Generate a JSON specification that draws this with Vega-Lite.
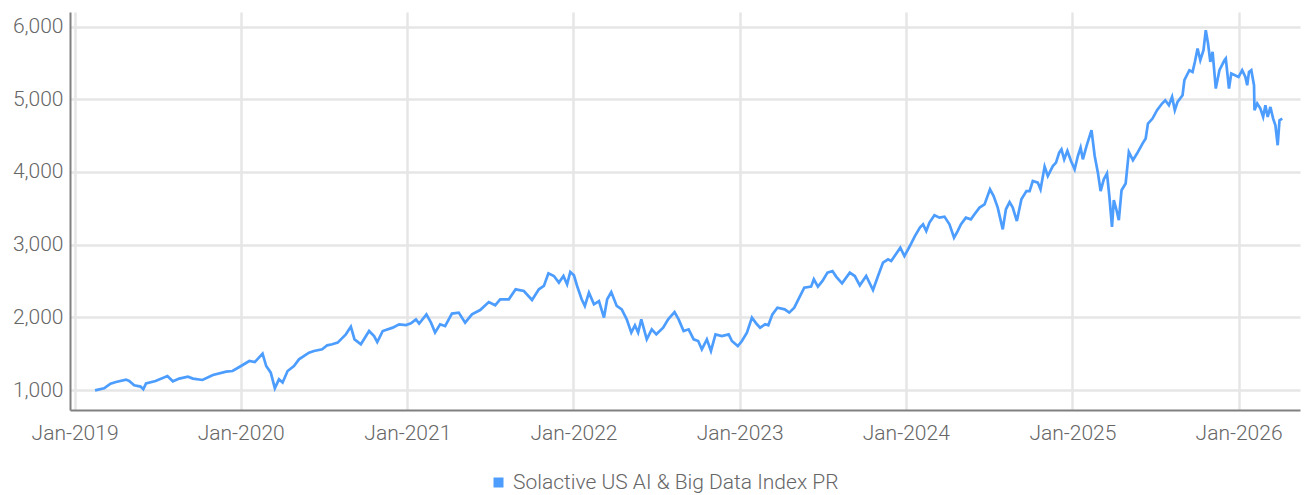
{
  "$schema": "https://vega.github.io/schema/vega-lite/v6.json",
  "autosize": {"type": "none"},
  "padding": {"left": 70, "top": 12, "right": 4, "bottom": 85},
  "width": 1230,
  "height": 398,
  "background": "white",
  "config": {
    "view": {"stroke": null},
    "font": "Roboto",
    "axis": {
      "domainColor": "#808080",
      "domainWidth": 2,
      "gridColor": "#e6e6e6",
      "gridWidth": 2.5,
      "ticks": false,
      "labelColor": "#666666",
      "labelFont": "Roboto",
      "labelFontSize": 21,
      "labelFontWeight": 300,
      "title": null
    },
    "legend": {
      "labelFont": "Roboto",
      "labelFontSize": 21,
      "labelFontWeight": 300,
      "labelColor": "#666666",
      "labelLimit": 0
    }
  },
  "data": {
    "values": [
      {"d": "2019-02-15", "v": 995}, {"d": "2019-03-07", "v": 1023}, {"d": "2019-03-21", "v": 1088}, {"d": "2019-04-02", "v": 1110},
      {"d": "2019-04-24", "v": 1143}, {"d": "2019-05-01", "v": 1124}, {"d": "2019-05-12", "v": 1065}, {"d": "2019-05-26", "v": 1047},
      {"d": "2019-06-01", "v": 1010}, {"d": "2019-06-07", "v": 1092}, {"d": "2019-06-28", "v": 1124}, {"d": "2019-07-24", "v": 1193},
      {"d": "2019-08-05", "v": 1120}, {"d": "2019-08-19", "v": 1157}, {"d": "2019-09-07", "v": 1184}, {"d": "2019-09-18", "v": 1157},
      {"d": "2019-10-09", "v": 1138}, {"d": "2019-11-01", "v": 1206}, {"d": "2019-11-30", "v": 1253}, {"d": "2019-12-14", "v": 1261},
      {"d": "2019-12-29", "v": 1316}, {"d": "2020-01-20", "v": 1399}, {"d": "2020-02-01", "v": 1385}, {"d": "2020-02-18", "v": 1500},
      {"d": "2020-02-26", "v": 1330}, {"d": "2020-03-07", "v": 1239}, {"d": "2020-03-16", "v": 1025}, {"d": "2020-03-25", "v": 1147},
      {"d": "2020-04-02", "v": 1102}, {"d": "2020-04-13", "v": 1261}, {"d": "2020-04-27", "v": 1330}, {"d": "2020-05-08", "v": 1422},
      {"d": "2020-05-30", "v": 1514}, {"d": "2020-06-10", "v": 1537}, {"d": "2020-06-28", "v": 1560}, {"d": "2020-07-09", "v": 1615},
      {"d": "2020-07-20", "v": 1629}, {"d": "2020-08-01", "v": 1652}, {"d": "2020-08-12", "v": 1721}, {"d": "2020-08-19", "v": 1766},
      {"d": "2020-08-30", "v": 1872}, {"d": "2020-09-07", "v": 1697}, {"d": "2020-09-21", "v": 1629}, {"d": "2020-10-09", "v": 1812},
      {"d": "2020-10-20", "v": 1743}, {"d": "2020-10-27", "v": 1660}, {"d": "2020-11-08", "v": 1812}, {"d": "2020-11-30", "v": 1858},
      {"d": "2020-12-14", "v": 1904}, {"d": "2020-12-29", "v": 1894}, {"d": "2021-01-09", "v": 1917}, {"d": "2021-01-20", "v": 1972},
      {"d": "2021-01-27", "v": 1913}, {"d": "2021-02-12", "v": 2041}, {"d": "2021-02-22", "v": 1927}, {"d": "2021-03-03", "v": 1790},
      {"d": "2021-03-14", "v": 1904}, {"d": "2021-03-25", "v": 1880}, {"d": "2021-04-09", "v": 2051}, {"d": "2021-04-24", "v": 2065},
      {"d": "2021-05-08", "v": 1927}, {"d": "2021-05-23", "v": 2041}, {"d": "2021-06-10", "v": 2100}, {"d": "2021-06-29", "v": 2210},
      {"d": "2021-07-13", "v": 2165}, {"d": "2021-07-24", "v": 2248}, {"d": "2021-08-12", "v": 2248}, {"d": "2021-08-27", "v": 2385},
      {"d": "2021-09-14", "v": 2362}, {"d": "2021-10-02", "v": 2238}, {"d": "2021-10-17", "v": 2385}, {"d": "2021-10-28", "v": 2431},
      {"d": "2021-11-07", "v": 2605}, {"d": "2021-11-19", "v": 2568}, {"d": "2021-11-30", "v": 2477}, {"d": "2021-12-10", "v": 2568},
      {"d": "2021-12-18", "v": 2454}, {"d": "2021-12-25", "v": 2623}, {"d": "2022-01-02", "v": 2578}, {"d": "2022-01-09", "v": 2431},
      {"d": "2022-01-19", "v": 2248}, {"d": "2022-01-26", "v": 2156}, {"d": "2022-02-04", "v": 2340}, {"d": "2022-02-15", "v": 2179},
      {"d": "2022-02-26", "v": 2224}, {"d": "2022-03-09", "v": 1996}, {"d": "2022-03-16", "v": 2248}, {"d": "2022-03-25", "v": 2348},
      {"d": "2022-04-06", "v": 2156}, {"d": "2022-04-17", "v": 2110}, {"d": "2022-04-28", "v": 1972}, {"d": "2022-05-08", "v": 1790},
      {"d": "2022-05-16", "v": 1890}, {"d": "2022-05-23", "v": 1790}, {"d": "2022-05-30", "v": 1972}, {"d": "2022-06-11", "v": 1697},
      {"d": "2022-06-22", "v": 1835}, {"d": "2022-07-02", "v": 1766}, {"d": "2022-07-17", "v": 1858}, {"d": "2022-07-28", "v": 1972},
      {"d": "2022-08-11", "v": 2073}, {"d": "2022-08-20", "v": 1972}, {"d": "2022-08-31", "v": 1812}, {"d": "2022-09-11", "v": 1835},
      {"d": "2022-09-22", "v": 1697}, {"d": "2022-10-02", "v": 1674}, {"d": "2022-10-10", "v": 1560}, {"d": "2022-10-21", "v": 1697},
      {"d": "2022-10-30", "v": 1537}, {"d": "2022-11-09", "v": 1766}, {"d": "2022-11-23", "v": 1743}, {"d": "2022-12-08", "v": 1766},
      {"d": "2022-12-15", "v": 1674}, {"d": "2022-12-28", "v": 1605}, {"d": "2023-01-06", "v": 1674}, {"d": "2023-01-17", "v": 1790},
      {"d": "2023-01-28", "v": 1996}, {"d": "2023-02-08", "v": 1904}, {"d": "2023-02-15", "v": 1858}, {"d": "2023-02-26", "v": 1904},
      {"d": "2023-03-05", "v": 1890}, {"d": "2023-03-14", "v": 2041}, {"d": "2023-03-25", "v": 2133}, {"d": "2023-04-10", "v": 2110},
      {"d": "2023-04-20", "v": 2065}, {"d": "2023-05-01", "v": 2133}, {"d": "2023-05-12", "v": 2271}, {"d": "2023-05-23", "v": 2408},
      {"d": "2023-06-07", "v": 2422}, {"d": "2023-06-13", "v": 2523}, {"d": "2023-06-22", "v": 2422}, {"d": "2023-07-02", "v": 2500},
      {"d": "2023-07-13", "v": 2615}, {"d": "2023-07-24", "v": 2637}, {"d": "2023-08-01", "v": 2560}, {"d": "2023-08-14", "v": 2468},
      {"d": "2023-08-31", "v": 2615}, {"d": "2023-09-11", "v": 2568}, {"d": "2023-09-22", "v": 2440}, {"d": "2023-10-06", "v": 2568},
      {"d": "2023-10-21", "v": 2376}, {"d": "2023-11-01", "v": 2568}, {"d": "2023-11-12", "v": 2752}, {"d": "2023-11-23", "v": 2798},
      {"d": "2023-11-30", "v": 2775}, {"d": "2023-12-20", "v": 2958}, {"d": "2023-12-29", "v": 2843}, {"d": "2024-01-10", "v": 2981},
      {"d": "2024-01-21", "v": 3118}, {"d": "2024-02-01", "v": 3234}, {"d": "2024-02-08", "v": 3279}, {"d": "2024-02-15", "v": 3187},
      {"d": "2024-02-22", "v": 3303}, {"d": "2024-03-04", "v": 3403}, {"d": "2024-03-15", "v": 3371}, {"d": "2024-03-26", "v": 3385},
      {"d": "2024-04-06", "v": 3279}, {"d": "2024-04-16", "v": 3096}, {"d": "2024-04-24", "v": 3187}, {"d": "2024-05-01", "v": 3279},
      {"d": "2024-05-12", "v": 3371}, {"d": "2024-05-23", "v": 3348}, {"d": "2024-05-31", "v": 3417}, {"d": "2024-06-11", "v": 3509},
      {"d": "2024-06-22", "v": 3554}, {"d": "2024-07-04", "v": 3760}, {"d": "2024-07-12", "v": 3668}, {"d": "2024-07-21", "v": 3509},
      {"d": "2024-08-01", "v": 3210}, {"d": "2024-08-08", "v": 3486}, {"d": "2024-08-16", "v": 3586}, {"d": "2024-08-23", "v": 3509},
      {"d": "2024-09-01", "v": 3325}, {"d": "2024-09-11", "v": 3623}, {"d": "2024-09-22", "v": 3737}, {"d": "2024-09-29", "v": 3737},
      {"d": "2024-10-06", "v": 3875}, {"d": "2024-10-17", "v": 3853}, {"d": "2024-10-23", "v": 3760}, {"d": "2024-11-01", "v": 4073},
      {"d": "2024-11-08", "v": 3944}, {"d": "2024-11-19", "v": 4081}, {"d": "2024-11-26", "v": 4128}, {"d": "2024-12-03", "v": 4265},
      {"d": "2024-12-08", "v": 4311}, {"d": "2024-12-14", "v": 4173}, {"d": "2024-12-21", "v": 4288}, {"d": "2024-12-29", "v": 4150},
      {"d": "2025-01-06", "v": 4036}, {"d": "2025-01-13", "v": 4219}, {"d": "2025-01-19", "v": 4334}, {"d": "2025-01-24", "v": 4173},
      {"d": "2025-02-01", "v": 4356}, {"d": "2025-02-12", "v": 4576}, {"d": "2025-02-19", "v": 4219}, {"d": "2025-02-26", "v": 3990},
      {"d": "2025-03-04", "v": 3737}, {"d": "2025-03-11", "v": 3898}, {"d": "2025-03-18", "v": 3978}, {"d": "2025-03-23", "v": 3679},
      {"d": "2025-03-29", "v": 3243}, {"d": "2025-04-02", "v": 3611}, {"d": "2025-04-08", "v": 3473}, {"d": "2025-04-13", "v": 3336},
      {"d": "2025-04-19", "v": 3748}, {"d": "2025-04-28", "v": 3840}, {"d": "2025-05-05", "v": 4275}, {"d": "2025-05-14", "v": 4161},
      {"d": "2025-05-23", "v": 4253}, {"d": "2025-06-04", "v": 4390}, {"d": "2025-06-11", "v": 4459}, {"d": "2025-06-16", "v": 4666},
      {"d": "2025-06-26", "v": 4734}, {"d": "2025-07-06", "v": 4849}, {"d": "2025-07-17", "v": 4941}, {"d": "2025-07-24", "v": 4986},
      {"d": "2025-08-01", "v": 4917}, {"d": "2025-08-08", "v": 5032}, {"d": "2025-08-14", "v": 4849}, {"d": "2025-08-20", "v": 4963},
      {"d": "2025-08-31", "v": 5055}, {"d": "2025-09-04", "v": 5261}, {"d": "2025-09-15", "v": 5399}, {"d": "2025-09-22", "v": 5376},
      {"d": "2025-09-27", "v": 5513}, {"d": "2025-10-03", "v": 5697}, {"d": "2025-10-09", "v": 5536}, {"d": "2025-10-16", "v": 5674},
      {"d": "2025-10-21", "v": 5949}, {"d": "2025-10-26", "v": 5766}, {"d": "2025-10-31", "v": 5513}, {"d": "2025-11-05", "v": 5651},
      {"d": "2025-11-12", "v": 5147}, {"d": "2025-11-20", "v": 5399}, {"d": "2025-12-01", "v": 5536}, {"d": "2025-12-04", "v": 5560},
      {"d": "2025-12-11", "v": 5147}, {"d": "2025-12-16", "v": 5353}, {"d": "2026-01-01", "v": 5307}, {"d": "2026-01-09", "v": 5399},
      {"d": "2026-01-16", "v": 5307}, {"d": "2026-01-20", "v": 5193}, {"d": "2026-01-24", "v": 5376}, {"d": "2026-01-29", "v": 5399},
      {"d": "2026-02-04", "v": 5193}, {"d": "2026-02-05", "v": 4849}, {"d": "2026-02-11", "v": 4941}, {"d": "2026-02-18", "v": 4872},
      {"d": "2026-02-24", "v": 4757}, {"d": "2026-03-01", "v": 4917}, {"d": "2026-03-06", "v": 4757}, {"d": "2026-03-12", "v": 4894},
      {"d": "2026-03-18", "v": 4734}, {"d": "2026-03-23", "v": 4642}, {"d": "2026-03-28", "v": 4367}, {"d": "2026-04-01", "v": 4711},
      {"d": "2026-04-07", "v": 4734}
    ]
  },
  "mark": {"type": "line", "strokeWidth": 2.7, "interpolate": "linear"},
  "encoding": {
    "x": {
      "field": "d",
      "type": "temporal",
      "scale": {"domain": ["2018-12-22", "2026-05-16"], "nice": false},
      "axis": {
        "format": "%b-%Y",
        "tickCount": {"interval": "year", "step": 1},
        "labelPadding": 12,
        "labelFlush": false,
        "labelOverlap": false
      }
    },
    "y": {
      "field": "v",
      "type": "quantitative",
      "scale": {"domain": [725, 6200], "nice": false, "zero": false},
      "axis": {
        "values": [1000, 2000, 3000, 4000, 5000, 6000],
        "format": ",d",
        "labelPadding": 7
      }
    },
    "color": {
      "datum": "Solactive US AI & Big Data Index PR",
      "type": "nominal",
      "scale": {"range": ["#4d9dff"]},
      "legend": {
        "title": null,
        "orient": "none",
        "legendX": 418,
        "legendY": 460,
        "symbolType": "square",
        "symbolSize": 100,
        "symbolFillColor": "#4d9dff",
        "symbolStrokeWidth": 0,
        "labelOffset": 4
      }
    }
  }
}
